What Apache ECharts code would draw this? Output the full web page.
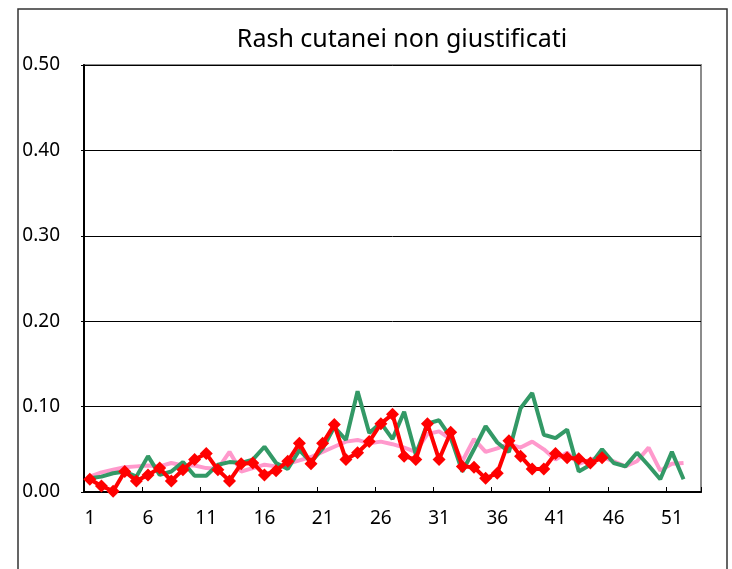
<!DOCTYPE html>
<html>
<head>
<meta charset="utf-8">
<script src="https://cdn.jsdelivr.net/npm/echarts@6/dist/echarts.min.js"></script>
<style>
html,body{margin:0;padding:0;background:#fff;}
#chart{width:732px;height:569px;}
</style>
</head>
<body>
<div id="chart"></div>
<script>
// Weeks (x categories)
const weeks = [];
for (let w = 1; w <= 53; w++) weeks.push(String(w));

// Y tick labels
const yTicks = [0.00, 0.10, 0.20, 0.30, 0.40, 0.50];

// Pink series (52 weeks)
const pinkValues = [0.018, 0.023, 0.026, 0.029, 0.030, 0.031, 0.030, 0.034, 0.031, 0.031,
  0.028, 0.027, 0.047, 0.024, 0.028, 0.032, 0.030, 0.033, 0.037, 0.041,
  0.047, 0.053, 0.059, 0.061, 0.057, 0.059, 0.056, 0.052, 0.047, 0.068,
  0.071, 0.062, 0.036, 0.062, 0.047, 0.051, 0.056, 0.052, 0.059, 0.050,
  0.038, 0.046, 0.033, 0.038, 0.041, 0.036, 0.030, 0.036, 0.052, 0.025,
  0.033, 0.034];

// Green series (52 weeks)
const greenValues = [0.016, 0.018, 0.022, 0.024, 0.018, 0.042, 0.020, 0.024, 0.035, 0.019,
  0.019, 0.032, 0.035, 0.034, 0.038, 0.053, 0.034, 0.027, 0.049, 0.035,
  0.051, 0.076, 0.061, 0.118, 0.069, 0.081, 0.062, 0.094, 0.044, 0.080,
  0.084, 0.064, 0.024, 0.050, 0.077, 0.058, 0.047, 0.098, 0.116, 0.067,
  0.063, 0.073, 0.024, 0.032, 0.050, 0.034, 0.030, 0.046, 0.031, 0.015,
  0.047, 0.015];

// Red series with diamonds (45 weeks)
const redValues = [0.015, 0.007, 0.001, 0.024, 0.013, 0.020, 0.028, 0.013, 0.026, 0.038,
  0.045, 0.026, 0.013, 0.033, 0.034, 0.020, 0.025, 0.036, 0.057, 0.033,
  0.057, 0.079, 0.038, 0.046, 0.059, 0.080, 0.091, 0.042, 0.038, 0.080,
  0.038, 0.070, 0.030, 0.029, 0.016, 0.022, 0.060, 0.042, 0.027, 0.027,
  0.045, 0.040, 0.039, 0.034, 0.040];

const FONT = '"Noto Sans", "DejaVu Sans", sans-serif';

const chart = echarts.init(document.getElementById('chart'), null, {renderer: 'canvas'});
chart.setOption({
  animation: false,
  backgroundColor: '#ffffff',
  title: {
    text: 'Rash cutanei non giustificati',
    left: 397,
    textAlign: 'center',
    top: 22,
    textStyle: {fontFamily: FONT, fontSize: 25, fontWeight: 'normal', color: '#000'}
  },
  graphic: [{
    type: 'rect',
    shape: {x: 18, y: 9, width: 709, height: 620},
    style: {fill: 'none', stroke: '#333', lineWidth: 1.5},
    silent: true,
    z: -1
  }],
  grid: {
    left: 84, top: 65, width: 617, height: 427,
    show: true, borderColor: '#8c8c8c', borderWidth: 2, backgroundColor: 'transparent'
  },
  xAxis: {
    type: 'category',
    data: weeks,
    boundaryGap: true,
    axisLine: {show: true, onZero: false, lineStyle: {color: '#000', width: 2}},
    axisTick: {show: true, inside: true, length: 5, interval: 4, lineStyle: {color: '#000', width: 1}},
    axisLabel: {interval: 4, margin: 17, fontFamily: FONT, fontSize: 19, color: '#000'},
    splitLine: {show: false}
  },
  yAxis: {
    type: 'value',
    min: yTicks[0],
    max: yTicks[yTicks.length - 1],
    interval: 0.1,
    axisLine: {show: true, lineStyle: {color: '#000', width: 2}},
    axisTick: {show: true, inside: false, length: 3, lineStyle: {color: '#000'}},
    axisLabel: {margin: 24, fontFamily: FONT, fontSize: 19, color: '#000',
      formatter: v => v.toFixed(2)},
    splitLine: {show: true, lineStyle: {color: '#000', width: 1}}
  },
  series: [
    {
      name: 'pink', type: 'line', data: pinkValues,
      symbol: 'none', lineStyle: {color: '#ff99cc', width: 4}, itemStyle: {color: '#ff99cc'}, z: 2
    },
    {
      name: 'green', type: 'line', data: greenValues,
      symbol: 'none', lineStyle: {color: '#339966', width: 4}, itemStyle: {color: '#339966'}, z: 3
    },
    {
      name: 'red', type: 'line', data: redValues,
      symbol: 'diamond', symbolSize: 13, showSymbol: true, showAllSymbol: true,
      lineStyle: {color: '#ff0000', width: 4}, itemStyle: {color: '#ff0000'}, z: 4
    }
  ]
});
</script>
</body>
</html>
